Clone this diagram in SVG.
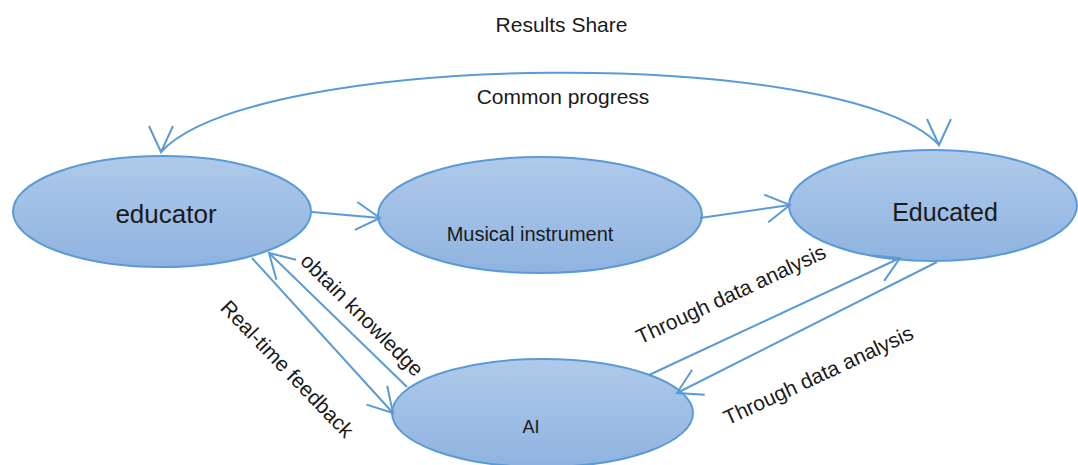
<svg xmlns="http://www.w3.org/2000/svg" width="1078" height="465" viewBox="0 0 1078 465">
  <style>
    .node { fill: url(#nodeFill); stroke: #5b9bd5; stroke-width: 2; }
    .conn { fill: none; stroke: #5b9bd5; stroke-width: 2; }
    .lbl { font-family: "Liberation Sans", Arial, sans-serif; fill: #1a1a1a; text-anchor: middle; }
  </style>
  <defs>
    <linearGradient id="nodeFill" x1="0" y1="0" x2="0" y2="1">
      <stop offset="0" stop-color="#afcaea"/>
      <stop offset="1" stop-color="#8fb3e0"/>
    </linearGradient>
    <marker id="arrow" viewBox="-27 -17 30 34" refX="0" refY="0" markerWidth="30" markerHeight="34" markerUnits="userSpaceOnUse" orient="auto">
      <path d="M-24,-14 L0,0 L-24,14" fill="none" stroke="#5b9bd5" stroke-width="2"/>
    </marker>
    <marker id="arrowDown" viewBox="-27 -17 30 34" refX="0" refY="0" markerWidth="30" markerHeight="34" markerUnits="userSpaceOnUse" orient="90">
      <path d="M-26,-12 L0,0 L-26,12" fill="none" stroke="#5b9bd5" stroke-width="2"/>
    </marker>
  </defs>
  <rect width="1078" height="465" fill="#ffffff"/>

  <g id="node-educator">
    <ellipse class="node" cx="162" cy="211.5" rx="149" ry="55.5"/>
    <text class="lbl" x="166" y="223" font-size="26">educator</text>
  </g>
  <g id="node-instrument">
    <ellipse class="node" cx="540" cy="215" rx="162" ry="58"/>
    <rect x="681" y="249" width="30" height="35" fill="#ffffff"/>
    <text class="lbl" x="530" y="241" font-size="20">Musical instrument</text>
  </g>
  <g id="node-educated">
    <ellipse class="node" cx="933" cy="205.5" rx="144" ry="55.5"/>
    <text class="lbl" x="945" y="221" font-size="25">Educated</text>
  </g>
  <g id="node-ai">
    <ellipse class="node" cx="542.5" cy="413" rx="150.5" ry="54"/>
    <text class="lbl" x="531" y="433" font-size="18">AI</text>
  </g>

  <g id="connectors">
    <path class="conn" d="M161,152 C255,50 845,45 939,145" marker-start="url(#arrowDown)" marker-end="url(#arrowDown)"/>
    <line class="conn" x1="312" y1="212" x2="380" y2="218" marker-end="url(#arrow)"/>
    <line class="conn" x1="700" y1="218" x2="790" y2="205" marker-end="url(#arrow)"/>
    <line class="conn" x1="252" y1="258" x2="393" y2="413" marker-end="url(#arrow)"/>
    <line class="conn" x1="407" y1="387" x2="269" y2="253" marker-end="url(#arrow)"/>
    <line class="conn" x1="649" y1="375" x2="900" y2="258" marker-end="url(#arrow)"/>
    <line class="conn" x1="937" y1="262" x2="677" y2="393" marker-end="url(#arrow)"/>
  </g>

  <g id="labels">
    <text class="lbl" x="561.5" y="32" font-size="21">Results Share</text>
    <text class="lbl" x="563" y="104" font-size="21">Common progress</text>
    <text class="lbl" font-size="21" transform="translate(362,315) rotate(45)" y="7">obtain knowledge</text>
    <text class="lbl" font-size="21" transform="translate(287,369) rotate(46)" y="7">Real-time feedback</text>
    <text class="lbl" font-size="21" transform="translate(731,294.5) rotate(-25)" y="7">Through data analysis</text>
    <text class="lbl" font-size="21" transform="translate(818.5,375.5) rotate(-25)" y="7">Through data analysis</text>
  </g>
</svg>
